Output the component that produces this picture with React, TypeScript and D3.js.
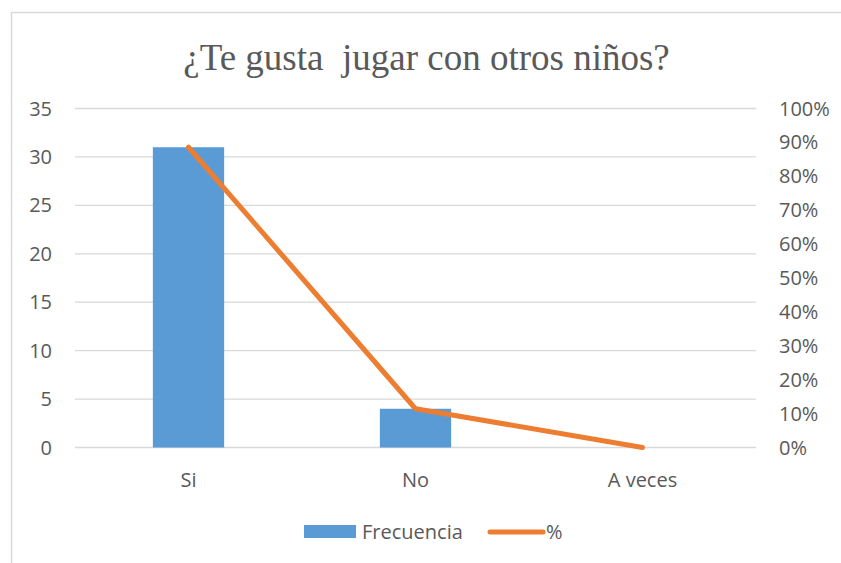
import React from "react";
import * as d3 from "d3";

const categories = ["Si", "No", "A veces"];
const frecuencia = [31, 4, 0];
const porcentaje = [0.8857, 0.1143, 0];
const leftTicks = [0, 5, 10, 15, 20, 25, 30, 35];
const rightTicks = [0, 0.1, 0.2, 0.3, 0.4, 0.5, 0.6, 0.7, 0.8, 0.9, 1];
const title = "¿Te gusta  jugar con otros niños?";
const seriesNames = ["Frecuencia", "%"];

const W = 841;
const H = 563;
const plotL = 75;
const plotR = 756;
const plotT = 108.5;
const plotB = 447.5;
const txt = "#595959";
const font = "'Open Sans', sans-serif";
const fs = 20;

export default function App() {
  const x = d3.scaleBand<string>().domain(categories).range([plotL, plotR]).paddingInner(0.686).paddingOuter(0.343);
  const xc = d3.scalePoint<string>().domain(categories).range([plotL, plotR]).padding(0.5);
  const yL = d3.scaleLinear().domain([0, 35]).range([plotB, plotT]);
  const yR = d3.scaleLinear().domain([0, 1]).range([plotB, plotT]);
  const line = d3
    .line<number>()
    .x((_, i) => xc(categories[i]) as number)
    .y((d) => yR(d));
  const pct = d3.format(".0%");

  return (
    <svg
      width={W}
      height={H}
      style={{ position: "absolute", left: 0, top: 0, background: "#fff" }}
      fontFamily={font}
    >
      <rect x={11.5} y={12.5} width={W} height={H} fill="#fff" stroke="#D9D9D9" strokeWidth={1.5} />
      <text
        x={426.5}
        y={70}
        textAnchor="middle"
        fontFamily="'Liberation Serif', 'Times New Roman', serif"
        fontSize={37}
        fill={txt}
        style={{ whiteSpace: "pre" }}
      >
        {title}
      </text>
      {leftTicks.map((t) => (
        <g key={t}>
          <line x1={plotL} x2={plotR} y1={yL(t)} y2={yL(t)} stroke="#D9D9D9" strokeWidth={1.3} />
          <text x={52} y={yL(t) + 7} textAnchor="end" fontSize={fs} fill={txt}>
            {t}
          </text>
        </g>
      ))}
      {rightTicks.map((t) => (
        <text key={t} x={779} y={yR(t) + 7} textAnchor="start" fontSize={fs} fill={txt}>
          {pct(t)}
        </text>
      ))}
      {categories.map((c, i) => (
        <g key={c}>
          <rect
            x={x(c)}
            width={x.bandwidth()}
            y={yL(frecuencia[i])}
            height={yL(0) - yL(frecuencia[i])}
            fill="#5B9BD5"
          />
          <text x={xc(c)} y={487} textAnchor="middle" fontSize={fs} fill={txt}>
            {c}
          </text>
        </g>
      ))}
      <path
        d={line(porcentaje) || ""}
        fill="none"
        stroke="#ED7D31"
        strokeWidth={5}
        strokeLinecap="round"
        strokeLinejoin="round"
      />
      <rect x={304} y={525} width={52} height={13} fill="#5B9BD5" />
      <text x={362} y={539} fontSize={fs} fill={txt}>
        {seriesNames[0]}
      </text>
      <line x1={490} x2={543} y1={532} y2={532} stroke="#ED7D31" strokeWidth={5} strokeLinecap="round" />
      <text x={546} y={539} fontSize={fs} fill={txt}>
        {seriesNames[1]}
      </text>
    </svg>
  );
}
